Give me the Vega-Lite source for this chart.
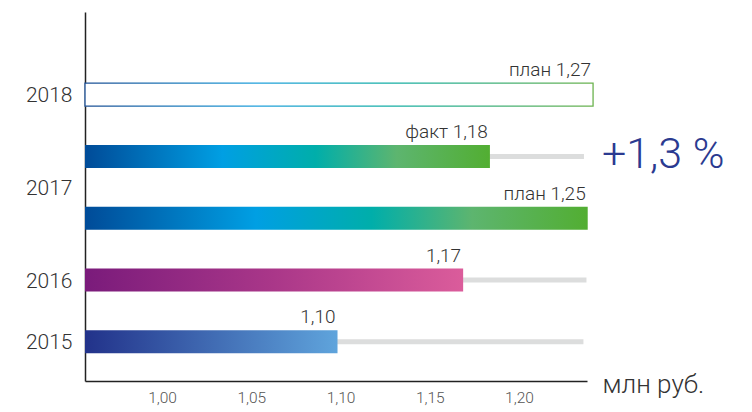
{
  "$schema": "https://vega.github.io/schema/vega-lite/v6.json",
  "width": 502,
  "height": 369,
  "autosize": {"type": "none"},
  "padding": {"left": 85, "top": 12, "right": 165, "bottom": 31},
  "background": "white",
  "config": {"view": {"stroke": null}, "font": "Roboto"},
  "data": {
    "values": [
      {"row": "2017f", "kind": "track", "value": 1.2364},
      {"row": "2016", "kind": "track", "value": 1.2378},
      {"row": "2015", "kind": "track", "value": 1.2361},
      {"row": "2018", "kind": "outline", "value": 1.2415, "label": "план 1,27"},
      {"row": "2017f", "kind": "bar", "value": 1.1837, "label": "факт 1,18"},
      {"row": "2017p", "kind": "bar", "value": 1.2385, "label": "план 1,25"},
      {"row": "2016", "kind": "bar", "value": 1.1687, "label": "1,17"},
      {"row": "2015", "kind": "bar", "value": 1.0983, "label": "1,10"},
      {"row": "2017f", "kind": "note", "value": 1.2364, "label": "+1,3 %"}
    ]
  },
  "encoding": {
    "x": {
      "field": "value",
      "type": "quantitative",
      "scale": {"domain": [0.9568, 1.2381], "zero": false, "nice": false},
      "axis": {
        "values": [1, 1.05, 1.1, 1.15, 1.2],
        "labelExpr": "replace(format(datum.value, '.2f'), '.', ',')",
        "ticks": false,
        "grid": false,
        "domainColor": "#222",
        "domainWidth": 1.5,
        "labelFontSize": 15.5,
        "labelColor": "#555",
        "labelFontWeight": 300,
        "labelPadding": 9,
        "title": "млн руб.",
        "titleFontSize": 26,
        "titleFontWeight": 300,
        "titleColor": "#333",
        "titleAlign": "left",
        "titleAnchor": "start",
        "titleBaseline": "alphabetic",
        "titleX": 517,
        "titleY": 11
      }
    },
    "y": {
      "field": "row",
      "type": "nominal",
      "scale": {
        "domain": ["2018", "2017f", "2017p", "2016", "2015"],
        "paddingInner": 0.629,
        "paddingOuter": 0.8,
        "align": 0.72
      },
      "axis": {
        "title": null,
        "ticks": false,
        "grid": false,
        "domainColor": "#222",
        "domainWidth": 1.5,
        "labelFontSize": 21,
        "labelFontWeight": 300,
        "labelColor": "#333",
        "labelPadding": 13,
        "labelExpr": "datum.value === '2017f' ? '' : (datum.value === '2017p' ? '2017' : datum.value)",
        "labelOffset": {"condition": {"test": "datum.value === '2017p'", "value": -29}, "value": 1.5}
      }
    }
  },
  "layer": [
    {
      "transform": [{"filter": "datum.kind === 'track'"}],
      "mark": {"type": "bar", "color": "#dcdddd", "size": 5},
      "encoding": {"x2": {"datum": 0.9568}}
    },
    {
      "transform": [{"filter": "datum.kind === 'bar' && datum.row === '2015'"}],
      "mark": {
        "type": "bar",
        "size": 23,
        "color": {"gradient": "linear", "x1": 0, "x2": 1, "y1": 0, "y2": 0,
          "stops": [{"offset": 0, "color": "#22328a"}, {"offset": 1, "color": "#5fa4dc"}]}
      },
      "encoding": {"x2": {"datum": 0.9568}}
    },
    {
      "transform": [{"filter": "datum.kind === 'bar' && datum.row === '2016'"}],
      "mark": {
        "type": "bar",
        "size": 23,
        "color": {"gradient": "linear", "x1": 0, "x2": 1, "y1": 0, "y2": 0,
          "stops": [{"offset": 0, "color": "#7a1b7b"}, {"offset": 0.5, "color": "#aa3789"}, {"offset": 1, "color": "#db5c9b"}]}
      },
      "encoding": {"x2": {"datum": 0.9568}}
    },
    {
      "transform": [{"filter": "datum.kind === 'bar' && (datum.row === '2017f' || datum.row === '2017p')"}],
      "mark": {
        "type": "bar",
        "size": 23,
        "color": {"gradient": "linear", "x1": 0, "x2": 1, "y1": 0, "y2": 0,
          "stops": [
            {"offset": 0, "color": "#004b98"},
            {"offset": 0.34, "color": "#009fe3"},
            {"offset": 0.57, "color": "#00aeaa"},
            {"offset": 0.77, "color": "#5db56f"},
            {"offset": 1, "color": "#52ae32"}
          ]}
      },
      "encoding": {"x2": {"datum": 0.9568}}
    },
    {
      "transform": [{"filter": "datum.kind === 'outline'"}],
      "mark": {
        "type": "bar",
        "size": 23,
        "fill": "white",
        "strokeWidth": 1.3,
        "stroke": {"gradient": "linear", "x1": 0, "x2": 1, "y1": 0, "y2": 0,
          "stops": [
            {"offset": 0, "color": "#1c4f94"},
            {"offset": 0.34, "color": "#1fa0dc"},
            {"offset": 0.6, "color": "#14aea5"},
            {"offset": 1, "color": "#6bb24e"}
          ]}
      },
      "encoding": {"x2": {"datum": 0.9568}}
    },
    {
      "transform": [{"filter": "datum.kind === 'bar' || datum.kind === 'outline'"}],
      "mark": {
        "type": "text",
        "align": "right",
        "baseline": "alphabetic",
        "dx": -2,
        "dy": -18.5,
        "fontSize": 19,
        "fontWeight": 300,
        "color": "#333"
      },
      "encoding": {"text": {"field": "label"}}
    },
    {
      "transform": [{"filter": "datum.kind === 'note'"}],
      "mark": {
        "type": "text",
        "align": "left",
        "baseline": "alphabetic",
        "dx": 18,
        "dy": 11.5,
        "fontSize": 43,
        "fontWeight": 300,
        "color": "#2b3a90"
      },
      "encoding": {"text": {"field": "label"}}
    }
  ]
}
